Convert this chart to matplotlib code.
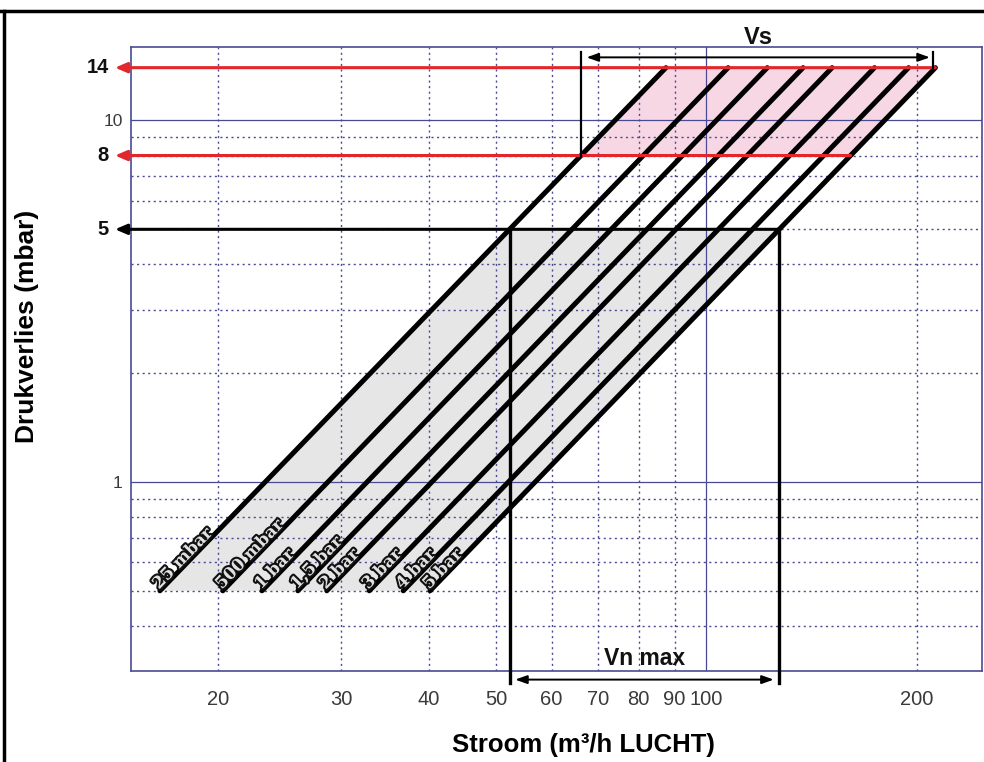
import numpy as np
import matplotlib
matplotlib.use("Agg")
import matplotlib.pyplot as plt
import matplotlib.patheffects as pe
from matplotlib.lines import Line2D
from matplotlib.ticker import FixedLocator, NullFormatter
import matplotlib.transforms as mtransforms

plt.rcParams['font.family'] = ['Liberation Sans', 'DejaVu Sans']

# flow (m3/h air) of each pressure line at 0.5 mbar and at 14 mbar
line_labels = ["25 mbar", "500 mbar", "1 bar", "1,5 bar", "2 bar", "3 bar", "4 bar", "5 bar"]
q_start = [16.5, 20.3, 23.1, 26.0, 28.6, 32.9, 36.8, 40.2]
q_end = [87.5, 107.4, 122.2, 137.5, 151.3, 174.0, 194.7, 212.7]
p_start = 0.5
p_end = 14.0

# marked pressure levels
p_red = [14, 8]
p_black = 5
gray_range = (0.5, 5)
pink_range = (8, 14)

x_major = [100]
x_minor = [20, 30, 40, 50, 60, 70, 80, 90, 200]
x_ticklabels = [20, 30, 40, 50, 60, 70, 80, 90, 100, 200]
y_major = [1, 10]
y_minor = [0.4, 0.5, 0.6, 0.7, 0.8, 0.9, 2, 3, 4, 5, 6, 7, 8, 9]

navy = '#4a4a94'
red = '#e3262b'


def q_at(i, p):
    # position of line i at pressure p (straight line in log-log)
    f = (np.log10(p) - np.log10(p_start)) / (np.log10(p_end) - np.log10(p_start))
    return 10 ** (np.log10(q_start[i]) + f * (np.log10(q_end[i]) - np.log10(q_start[i])))


fig = plt.figure(figsize=(9.84, 7.62), dpi=100)
ax = fig.add_axes([131 / 984, 1 - 671 / 762, (982 - 131) / 984, (671 - 46.7) / 762])
ax.set_xscale('log')
ax.set_yscale('log')
ax.set_xlim(15, 248)
ax.set_ylim(0.3, 16)

# grid
for x in x_major:
    ax.axvline(x, color=navy, lw=0.9, zorder=1)
for x in x_minor:
    ax.axvline(x, color=navy, lw=1.0, ls=(0, (1.5, 2.5)), zorder=1)
for y in y_major:
    ax.axhline(y, color=navy, lw=0.9, zorder=1)
for y in y_minor:
    ax.axhline(y, color=navy, lw=1.0, ls=(0, (1.5, 2.5)), zorder=1)

for s in ax.spines.values():
    s.set_color(navy)
    s.set_linewidth(1.2)

ax.xaxis.set_major_locator(FixedLocator(x_ticklabels))
ax.xaxis.set_minor_locator(FixedLocator([]))
ax.set_xticklabels([str(v) for v in x_ticklabels])
ax.yaxis.set_major_locator(FixedLocator(y_major))
ax.yaxis.set_minor_locator(FixedLocator([]))
ax.set_yticklabels(['1', '10'])
ax.xaxis.set_minor_formatter(NullFormatter())
ax.yaxis.set_minor_formatter(NullFormatter())
ax.tick_params(axis='x', length=0, pad=14, labelsize=14.5, labelcolor='#3a3a3a')
ax.tick_params(axis='y', length=0, pad=6, labelsize=12.5, labelcolor='#3a3a3a')

# shaded regions
gx = [q_at(0, gray_range[0]), q_at(0, gray_range[1]), q_at(7, gray_range[1]), q_at(7, gray_range[0])]
gy = [gray_range[0], gray_range[1], gray_range[1], gray_range[0]]
ax.fill(gx, gy, color='#d2d2d2', alpha=0.55, lw=0, zorder=0.5)
px = [q_at(0, pink_range[0]), q_at(0, pink_range[1]), q_at(7, pink_range[1]), q_at(7, pink_range[0])]
py = [pink_range[0], pink_range[1], pink_range[1], pink_range[0]]
ax.fill(px, py, color='#f4b6cf', alpha=0.55, lw=0, zorder=0.5)

# pressure lines
for i in range(len(q_start)):
    ax.plot([q_start[i], q_end[i]], [p_start, p_end], color='black', lw=3.6,
            solid_capstyle='round', zorder=4)

# labels along the lines
fig.canvas.draw()
p0 = ax.transData.transform((q_start[0], p_start))
p1 = ax.transData.transform((q_end[0], p_end))
angle = np.degrees(np.arctan2(p1[1] - p0[1], p1[0] - p0[0]))
for i, lab in enumerate(line_labels):
    off = mtransforms.offset_copy(ax.transData, fig=fig, x=-3, y=3, units='points')
    ax.text(q_start[i], p_start, lab, rotation=angle, rotation_mode='anchor',
            ha='left', va='center', fontsize=12, fontweight='bold',
            family='DejaVu Serif', color='#e0e0e0', transform=off, zorder=5,
            path_effects=[pe.withStroke(linewidth=3, foreground='#111111')])

# horizontal arrows to the pressure axis
trans = mtransforms.blended_transform_factory(ax.transAxes, ax.transData)
arrow_x = (115 - 131) / (982 - 131)
for p in p_red:
    ax.annotate('', xy=(arrow_x, p), xycoords=trans, xytext=(q_at(7, p), p),
                textcoords='data', annotation_clip=False,
                arrowprops=dict(arrowstyle='-|>,head_length=0.7,head_width=0.3',
                                color=red, lw=2.2, shrinkA=0, shrinkB=0), zorder=6)
ax.annotate('', xy=(arrow_x, p_black), xycoords=trans, xytext=(q_at(7, p_black), p_black),
            textcoords='data', annotation_clip=False,
            arrowprops=dict(arrowstyle='-|>,head_length=0.7,head_width=0.3',
                            color='black', lw=2.2, shrinkA=0, shrinkB=0), zorder=6)

label_x = (109 - 131) / (982 - 131)
for p in [14, 8, 5]:
    ax.text(label_x, p, str(p), transform=trans, ha='right', va='center',
            fontsize=14.5, fontweight='bold', color='#111111')

# Vn max
vn_lo = q_at(0, p_black)
vn_hi = q_at(7, p_black)
for q in [vn_lo, vn_hi]:
    ax.plot([q, q], [p_black, 0.278], color='black', lw=2.4, clip_on=False, zorder=6)
ax.annotate('', xy=(vn_lo, 0.284), xytext=(vn_hi, 0.284),
            arrowprops=dict(arrowstyle='<|-|>,head_length=0.7,head_width=0.25',
                            color='black', lw=1.4, shrinkA=4, shrinkB=4),
            annotation_clip=False, zorder=6)
ax.text(np.sqrt(vn_lo * vn_hi), 0.325, 'Vn max', ha='center', va='center',
        fontsize=16.5, fontweight='bold', color='#111111', zorder=6)

# Vs
vs_lo = q_at(0, pink_range[0])
vs_hi = q_at(7, pink_range[1])
ax.plot([vs_lo, vs_lo], [pink_range[0], 15.5], color='black', lw=1.6, zorder=6)
ax.plot([vs_hi * 0.993, vs_hi * 0.993], [pink_range[1], 15.5], color='black', lw=1.6, zorder=6)
ax.annotate('', xy=(vs_lo, 14.95), xytext=(vs_hi, 14.95),
            arrowprops=dict(arrowstyle='<|-|>,head_length=0.7,head_width=0.25',
                            color='black', lw=1.4, shrinkA=4, shrinkB=4),
            annotation_clip=False, zorder=6)
ax.text(np.sqrt(vs_lo * vs_hi), 17.0, 'Vs', ha='center', va='center',
        fontsize=17, fontweight='bold', color='#111111', clip_on=False)

ax.set_xlabel('Stroom (m³/h LUCHT)', fontsize=18.5, fontweight='bold')
ax.xaxis.set_label_coords((583 - 131) / 851, (671 - 745) / 624.3)
ax.xaxis.label.set_va('center')
ax.set_ylabel('Drukverlies (mbar)', fontsize=19, fontweight='bold')
ax.yaxis.set_label_coords((27 - 131) / 851, (671 - 326) / 624.3)
ax.yaxis.label.set_va('center')

# frame of the scanned page
fig.add_artist(Line2D([0, 1], [1 - 11 / 762, 1 - 11 / 762], transform=fig.transFigure,
                      color='black', lw=2.5))
fig.add_artist(Line2D([4 / 984, 4 / 984], [0, 1 - 11 / 762], transform=fig.transFigure,
                      color='black', lw=2.5))

fig.savefig('out.png', dpi=100)
